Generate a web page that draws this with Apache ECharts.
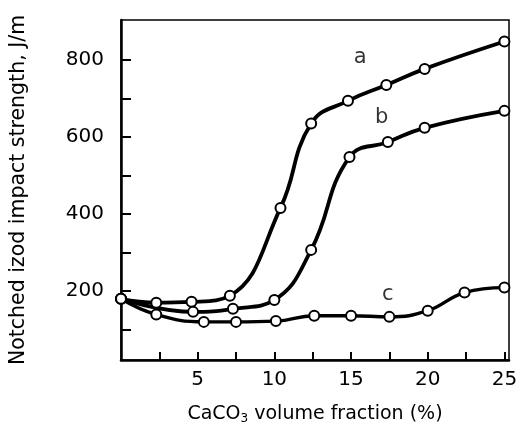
<!DOCTYPE html>
<html>
<head>
<meta charset="utf-8">
<script src="https://cdn.jsdelivr.net/npm/echarts@6.0.0/dist/echarts.min.js"></script>
<style>
  html, body { margin: 0; padding: 0; background: #fff; }
  #box { width: 522px; height: 434px; }
</style>
</head>
<body>
<div id="box"></div>
<script>
// CaCO3 volume fraction (%) vs notched izod impact strength (J/m)
var curveA = [[0, 180], [2.3, 170], [4.6, 172], [7.1, 188], [10.4, 416], [12.4, 635], [14.8, 694], [17.3, 735], [19.8, 777], [25, 848]];
var curveB = [[0, 180], [4.7, 146], [7.3, 154], [10, 177], [12.4, 307], [14.9, 548], [17.4, 587], [19.8, 624], [25, 668]];
var curveC = [[0, 180], [2.3, 139], [5.4, 120], [7.5, 120], [10.1, 122], [12.6, 136], [15, 136], [17.5, 133], [20, 149], [22.4, 196], [25, 209]];

// curve names and where they are written
var curveLabels = [['a', 15.6, 806], ['b', 17.0, 650], ['c', 17.4, 192]];

var xLabels = [5, 10, 15, 20, 25];
var xTicks = [2.5, 5, 7.5, 10, 12.5, 15, 17.5, 20, 22.5, 25];
var yLabels = [200, 400, 600, 800];
var yTicks = [100, 200, 300, 400, 500, 600, 700, 800];

var myChart = echarts.init(document.getElementById('box'));
var font = 'DejaVu Sans';

function curve(name, data, width) {
  return {
    name: name,
    type: 'line',
    data: data,
    smooth: 0.45,
    symbol: 'circle',
    symbolSize: 10,
    showAllSymbol: true,
    lineStyle: {color: '#000', width: width},
    itemStyle: {color: '#fff', borderColor: '#000', borderWidth: 2},
    z: 3
  };
}

var option = {
  animation: false,
  backgroundColor: '#fff',
  grid: {
    left: 115, right: 13, top: 20, bottom: 74,
    show: true,
    borderColor: '#000',
    borderWidth: 1.5
  },
  xAxis: {
    type: 'value',
    min: 0,
    max: 25.3,
    name: '{n|CaCO}{s|3}{n| volume fraction (%)}',
    nameLocation: 'middle',
    nameGap: 43,
    nameTextStyle: {
      rich: {
        n: {fontFamily: font, fontSize: 19, color: '#000'},
        s: {fontFamily: font, fontSize: 12, color: '#000', verticalAlign: 'bottom', padding: [10, 0, 0, 0]}
      }
    },
    axisLine: {lineStyle: {color: '#000', width: 2.5}},
    axisTick: {inside: true, length: 8, lineStyle: {color: '#000', width: 2}, customValues: xTicks},
    axisLabel: {color: '#000', fontFamily: font, fontSize: 20, margin: 10, customValues: xLabels},
    splitLine: {show: false}
  },
  yAxis: {
    type: 'value',
    min: 21,
    max: 904,
    name: 'Notched izod impact strength, J/m',
    nameLocation: 'middle',
    nameGap: 92,
    nameTextStyle: {color: '#000', fontFamily: font, fontSize: 20.5},
    axisLine: {lineStyle: {color: '#000', width: 2.5}},
    axisTick: {inside: true, length: 10, lineStyle: {color: '#000', width: 2}, customValues: yTicks},
    axisLabel: {color: '#000', fontFamily: font, fontSize: 20, margin: 17, customValues: yLabels},
    splitLine: {show: false}
  },
  series: [
    curve('a', curveA, 3.8),
    curve('b', curveB, 3.8),
    curve('c', curveC, 3.4),
    {
      type: 'scatter',
      symbol: 'circle',
      symbolSize: 2,
      itemStyle: {color: 'rgba(0,0,0,0)'},
      data: curveLabels.map(function (d) { return {name: d[0], value: [d[1], d[2]]}; }),
      label: {
        show: true,
        position: 'inside',
        formatter: '{b}',
        color: '#000',
        fontFamily: font,
        fontSize: 21
      },
      z: 4
    }
  ]
};

myChart.setOption(option);
</script>
</body>
</html>
